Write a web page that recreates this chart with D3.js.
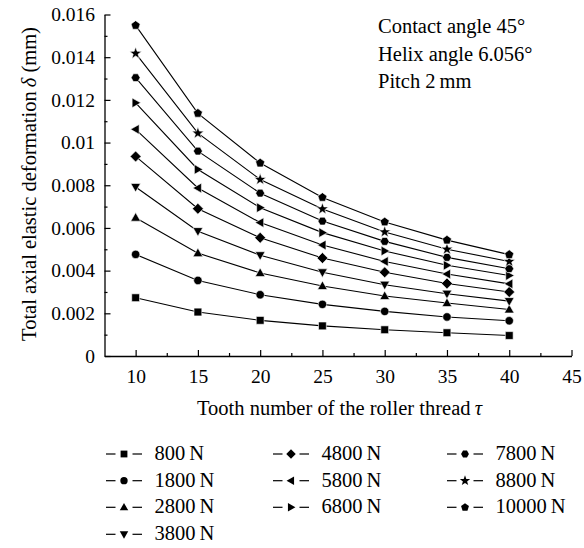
<!DOCTYPE html>
<html><head><meta charset="utf-8">
<script src="https://cdn.jsdelivr.net/npm/d3@7"></script>
<style>body{margin:0;background:#fff}svg{display:block}</style>
</head><body>
<svg id="c" width="584" height="548"></svg>
<script>
// ---------- data ----------
const teeth = [10, 15, 20, 25, 30, 35, 40];
const loadLabels = ["800\u2009N","1800\u2009N","2800\u2009N","3800\u2009N","4800\u2009N","5800\u2009N","6800\u2009N","7800\u2009N","8800\u2009N","10000\u2009N"];
const markerTypes = ["square","circle","up","down","diamond","left","right","hexagon","star","pentagon"];
const s800   = [0.00273,0.00206,0.00167,0.00141,0.00123,0.00109,0.00096];
const s1800  = [0.00476,0.00354,0.00287,0.00242,0.00209,0.00183,0.00165];
const s2800  = [0.00648,0.00482,0.00389,0.00328,0.00281,0.00248,0.00218];
const s3800  = [0.00792,0.00585,0.00472,0.00392,0.00334,0.00292,0.00257];
const s4800  = [0.00935,0.00690,0.00554,0.00459,0.00392,0.00340,0.00300];
const s5800  = [0.01062,0.00787,0.00625,0.00520,0.00443,0.00384,0.00338];
const s6800  = [0.01186,0.00874,0.00695,0.00578,0.00492,0.00425,0.00377];
const s7800  = [0.01304,0.00960,0.00763,0.00632,0.00537,0.00462,0.00409];
const s8800  = [0.01418,0.01044,0.00827,0.00689,0.00581,0.00500,0.00443];
const s10000 = [0.01549,0.01137,0.00904,0.00743,0.00628,0.00543,0.00475];
const seriesValues = [s800,s1800,s2800,s3800,s4800,s5800,s6800,s7800,s8800,s10000];
const xTickValues = [10,15,20,25,30,35,40,45];
const xMinorTicks = [12.5,17.5,22.5,27.5,32.5,37.5,42.5];
const yTickValues = [0,0.002,0.004,0.006,0.008,0.01,0.012,0.014,0.016];
const yTickLabels = ["0","0.002","0.004","0.006","0.008","0.01","0.012","0.014","0.016"];
const yMinorTicks = [0.001,0.003,0.005,0.007,0.009,0.011,0.013,0.015];
const notes = ["Contact angle 45°","Helix angle 6.056°","Pitch 2\u2009mm"];

// ---------- drawing ----------
const FONT = "'Liberation Serif','Times New Roman',serif";
const TXT = "20.5px";
const svg = d3.select("#c");
const x = d3.scaleLinear().domain([7.5,45]).range([104.5,571.5]);
const y = d3.scaleLinear().domain([0,0.016]).range([356,14.5]);

function markerPath(type, r){
  const p = d3.path();
  const poly = (pts)=>{pts.forEach((q,i)=> i? p.lineTo(q[0],q[1]) : p.moveTo(q[0],q[1])); p.closePath();};
  const reg = (n, rot, rr)=>{const a=[];for(let i=0;i<n;i++){const t=rot+i*2*Math.PI/n;a.push([rr*Math.cos(t), rr*Math.sin(t)]);}return a;};
  switch(type){
    case "square": poly([[-r,-r],[r,-r],[r,r],[-r,r]]); break;
    case "circle": p.arc(0,0,r*1.08,0,2*Math.PI); break;
    case "hexagon": poly(reg(6,0,r*1.15)); break;
    case "up": poly([[0,-r*1.3],[r*1.25,r*0.9],[-r*1.25,r*0.9]]); break;
    case "down": poly([[0,r*1.3],[r*1.25,-r*0.9],[-r*1.25,-r*0.9]]); break;
    case "left": poly([[-r*1.3,0],[r*0.9,-r*1.25],[r*0.9,r*1.25]]); break;
    case "right": poly([[r*1.3,0],[-r*0.9,-r*1.25],[-r*0.9,r*1.25]]); break;
    case "diamond": poly([[0,-r*1.4],[r*1.4,0],[0,r*1.4],[-r*1.4,0]]); break;
    case "pentagon": poly(reg(5,-Math.PI/2,r*1.22)); break;
    case "star": {const a=[];for(let i=0;i<10;i++){const t=-Math.PI/2+i*Math.PI/5;const rr=i%2? r*0.65: r*1.6;a.push([rr*Math.cos(t),rr*Math.sin(t)]);}poly(a);} break;
  }
  return p.toString();
}

// axes
const gx = svg.append("g").attr("transform","translate(0,356)")
  .call(d3.axisBottom(x).tickValues(xTickValues).tickSize(-6).tickSizeOuter(0).tickPadding(13.5).tickFormat(d3.format("d")));
const gxm = svg.append("g").attr("transform","translate(0,356)")
  .call(d3.axisBottom(x).tickValues(xMinorTicks).tickSize(-3).tickSizeOuter(0).tickFormat(""));
const gy = svg.append("g").attr("transform","translate(104.5,0)")
  .call(d3.axisLeft(y).tickValues(yTickValues).tickSize(-6).tickSizeOuter(0).tickPadding(9.5).tickFormat((d,i)=>yTickLabels[i]));
const gym = svg.append("g").attr("transform","translate(104.5,0)")
  .call(d3.axisLeft(y).tickValues(yMinorTicks).tickSize(-3).tickSizeOuter(0).tickFormat(""));
[gx,gxm,gy,gym].forEach(g=>{
  g.selectAll("path.domain").attr("stroke","#000").attr("stroke-width",1.3);
  g.selectAll("line").attr("stroke","#000").attr("stroke-width",1.2);
  g.selectAll("text").attr("fill","#000").style("font-family",FONT).style("font-size","19.5px");
});
gxm.select("path.domain").remove(); gym.select("path.domain").remove();

// axis titles
const xt = svg.append("text").attr("x",197).attr("y",415).style("font-family",FONT).style("font-size",TXT).attr("fill","#000");
xt.append("tspan").text("Tooth number of the roller thread\u2009");
xt.append("tspan").attr("font-style","italic").text("τ");
const yt = svg.append("text").attr("transform","translate(36,184) rotate(-90)").attr("text-anchor","middle")
  .style("font-family",FONT).style("font-size",TXT).attr("fill","#000");
yt.append("tspan").text("Total axial elastic deformation\u2009");
yt.append("tspan").attr("font-style","italic").text("δ");
yt.append("tspan").text(" (mm)");

// series
const line = d3.line().x((d,i)=>x(teeth[i])).y(d=>y(d));
seriesValues.forEach((vals,k)=>{
  svg.append("path").attr("d",line(vals)).attr("fill","none").attr("stroke","#000").attr("stroke-width",1.1);
  svg.append("g").selectAll("path").data(vals).join("path")
    .attr("transform",(d,i)=>`translate(${x(teeth[i])},${y(d)})`)
    .attr("d",markerPath(markerTypes[k],3.9)).attr("fill","#000").attr("stroke","#fff").attr("stroke-width",0.6);
});

// notes
svg.append("g").selectAll("text").data(notes).join("text")
  .attr("x",378).attr("y",(d,i)=>33+i*27.5).text(d=>d)
  .style("font-family",FONT).style("font-size",TXT).attr("fill","#000");

// legend
const colX = [106,273,447];
const rowY = [460,486.7,513.3,540.3];
const legPos = [[0,0],[0,1],[0,2],[0,3],[1,0],[1,1],[1,2],[2,0],[2,1],[2,2]];
loadLabels.forEach((lab,k)=>{
  const lx = colX[legPos[k][0]], ly = rowY[legPos[k][1]] - 6;
  const g = svg.append("g").attr("transform",`translate(${lx},${ly})`);
  g.append("line").attr("x1",0).attr("x2",9.5).attr("y1",0).attr("y2",0).attr("stroke","#000").attr("stroke-width",1.2);
  g.append("line").attr("x1",26.5).attr("x2",36).attr("y1",0).attr("y2",0).attr("stroke","#000").attr("stroke-width",1.2);
  g.append("path").attr("transform","translate(18,0)").attr("d",markerPath(markerTypes[k],3.4)).attr("fill","#000");
  svg.append("text").attr("x",lx+48.5).attr("y",rowY[legPos[k][1]]).text(lab)
    .style("font-family",FONT).style("font-size",TXT).attr("fill","#000");
});
</script>
</body></html>
